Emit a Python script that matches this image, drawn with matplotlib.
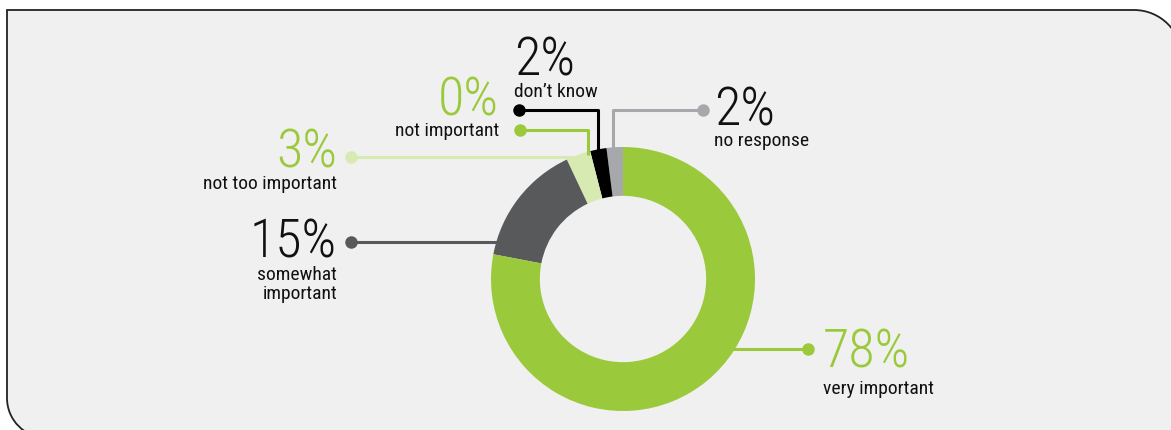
import numpy as np
import matplotlib
matplotlib.use("Agg")
import matplotlib.pyplot as plt
from matplotlib.path import Path
from matplotlib.patches import PathPatch

# data
labels = ["no response", "don\u2019t know", "not important", "not too important",
          "somewhat\nimportant", "very important"]
values = [2, 2, 0, 3, 15, 78]
colors = ["#a7a8ab", "#000000", "#9bc93c", "#d7eab2", "#58595b", "#9bc93c"]
pct_colors = ["#111111", "#111111", "#9bc93c", "#9bc93c", "#111111", "#9bc93c"]

W, H = 1171, 430
plt.rcParams["font.family"] = ["Roboto Condensed", "DejaVu Sans"]

fig = plt.figure(figsize=(W / 100, H / 100), dpi=100)
fig.patch.set_facecolor("white")
ax = fig.add_axes([0, 0, 1, 1])


def Y(y):
    return H - y


# background panel with two rounded corners
x0, y0, x1, y1 = 7, Y(10), 1182, Y(438)
r1, r2, k = 48, 40, 0.5523
verts = [(x0, y0), (x1 - r1, y0),
         (x1 - r1 + k * r1, y0), (x1, y0 - r1 + k * r1), (x1, y0 - r1),
         (x1, y1),
         (x0 + r2, y1),
         (x0 + r2 - k * r2, y1), (x0, y1 + r2 - k * r2), (x0, y1 + r2),
         (x0, y0), (x0, y0)]
codes = [Path.MOVETO, Path.LINETO,
         Path.CURVE4, Path.CURVE4, Path.CURVE4,
         Path.LINETO, Path.LINETO,
         Path.CURVE4, Path.CURVE4, Path.CURVE4,
         Path.LINETO, Path.CLOSEPOLY]
ax.add_patch(PathPatch(Path(verts, codes), facecolor="#f0f0f0",
                       edgecolor="#222222", lw=1.3, zorder=0))

# donut
cx, cy, R = 623, Y(279), 132
ax.pie(values, colors=colors, startangle=90, counterclock=True,
       center=(cx, cy), radius=R,
       wedgeprops=dict(width=R * 0.37, linewidth=0))


def ring_x(y, side):
    return cx + side * np.sqrt(R ** 2 - (y - cy) ** 2)


def ring_y(x):
    return cy + np.sqrt(R ** 2 - (x - cx) ** 2)


lw = 2.2
ms = 9

# leader lines: (points), dot position
leaders = {
    "very important": ([(ring_x(Y(349), 1) - 4, Y(349)), (808, Y(349))], (808, Y(349))),
    "somewhat\nimportant": ([(ring_x(Y(242), -1) + 4, Y(242)), (351, Y(242))], (351, Y(242))),
    "not too important": ([(ring_x(Y(157), -1) + 4, Y(157)), (351, Y(157))], (351, Y(157))),
    "not important": ([(588, ring_y(588) - 3), (588, Y(130)), (520, Y(130))], (520, Y(130))),
    "don\u2019t know": ([(598, ring_y(598) - 3), (598, Y(110)), (519, Y(110))], (519, Y(110))),
    "no response": ([(613, ring_y(613) - 3), (613, Y(110)), (703, Y(110))], (703, Y(110))),
}
for lab, col in zip(labels, colors):
    pts, dot = leaders[lab]
    xs, ys = zip(*pts)
    ax.plot(xs, ys, color=col, lw=lw, solid_capstyle="butt", zorder=3)
    ax.plot(*dot, "o", color=col, ms=ms, mec="none", zorder=4)

# text: (x, y pct baseline, y label baseline, ha)
text_pos = {
    "very important": (823, 367, 394, "left"),
    "somewhat\nimportant": (337, 257, 266, "right"),
    "not too important": (337, 168, 189, "right"),
    "not important": (499, 115, 136, "right"),
    "don\u2019t know": (514, 75, 97, "left"),
    "no response": (714, 126, 146, "left"),
}
for lab, v, pc in zip(labels, values, pct_colors):
    x, yp, yl, ha = text_pos[lab]
    ax.text(x, Y(yp), f"{v}%", ha=ha, va="baseline", fontsize=39,
            fontweight="light", color=pc, zorder=5)
    ax.text(x, Y(yl), lab, ha=ha, va="top" if "\n" in lab else "baseline",
            fontsize=14, color="#111111", linespacing=1.05, zorder=5)

ax.set_xlim(0, W)
ax.set_ylim(0, H)
ax.set_aspect("equal")
ax.axis("off")
fig.savefig("out.png", dpi=100, facecolor="white")
